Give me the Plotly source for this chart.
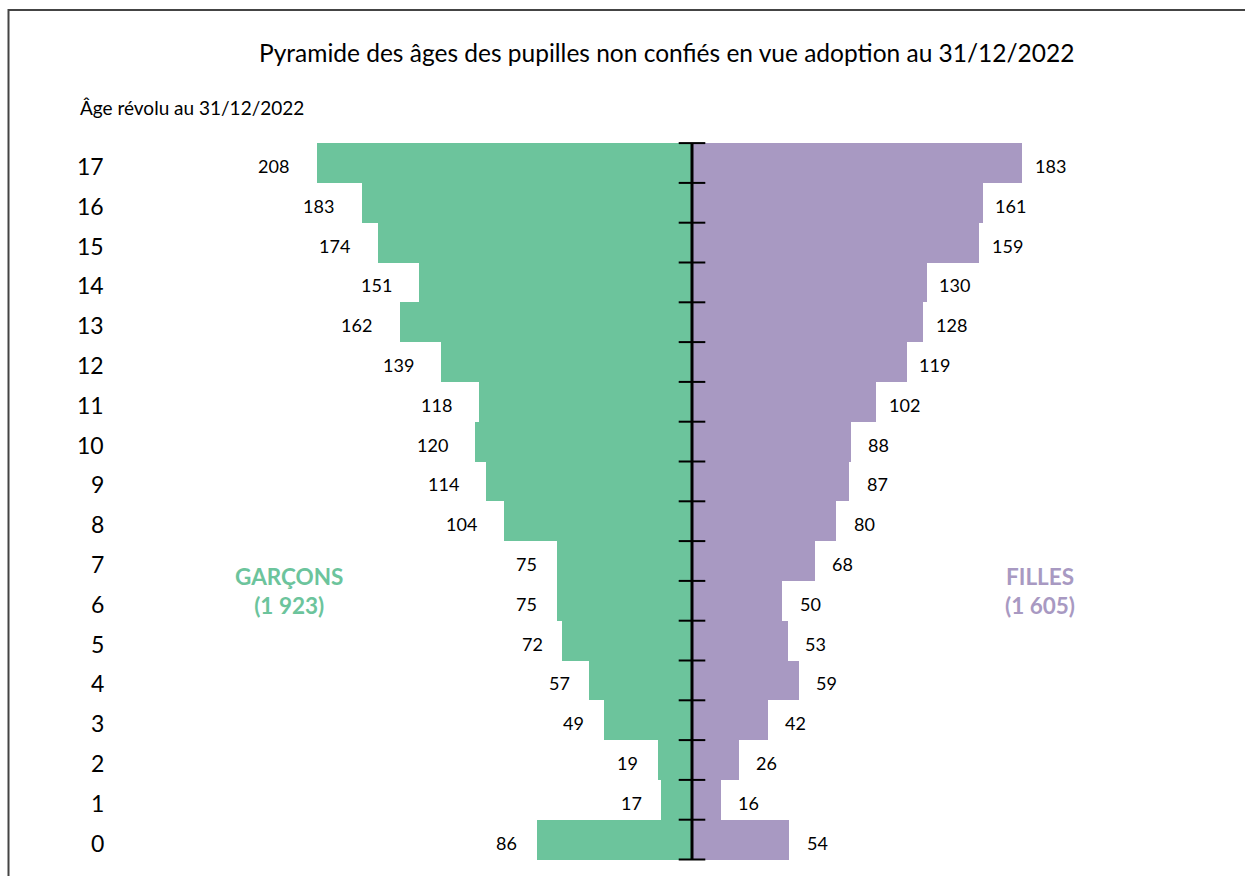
import plotly.graph_objects as go

ages = list(range(0, 18))
garcons = [86, 17, 19, 49, 57, 72, 75, 75, 104, 114, 120, 118, 139, 162, 151, 174, 183, 208]
filles = [54, 16, 26, 42, 59, 53, 50, 68, 80, 87, 88, 102, 119, 128, 130, 159, 161, 183]
title = "Pyramide des âges des pupilles non confiés en vue adoption au 31/12/2022"
subtitle = "Âge révolu au 31/12/2022"
green = "#6CC49C"
purple = "#A899C2"
W, H = 1245, 876
FONT = "Lato"

px_per_unit = 1.805
cx = 692
row_px = 39.8
top_center = 163

fig = go.Figure()
fig.add_trace(go.Bar(y=ages, x=[-v for v in garcons], orientation="h",
                     marker=dict(color=green, line=dict(width=0)), width=1, hoverinfo="skip"))
fig.add_trace(go.Bar(y=ages, x=filles, orientation="h",
                     marker=dict(color=purple, line=dict(width=0)), width=1, hoverinfo="skip"))

# central axis line and ticks
bounds = [a - 0.5 for a in ages] + [ages[-1] + 0.5]
fig.add_trace(go.Scatter(x=[0, 0], y=[bounds[0], bounds[-1]], mode="lines",
                         line=dict(color="black", width=3), hoverinfo="skip"))
fig.add_trace(go.Scatter(x=[0] * len(bounds), y=bounds, mode="markers",
                         marker=dict(symbol="line-ew", size=19, line=dict(color="black", width=2)),
                         hoverinfo="skip"))

annotations = []
# age labels (right aligned)
age_x = (106 - cx) / px_per_unit
for a in ages:
    annotations.append(dict(x=age_x, y=a, xref="x", yref="y", text=str(a), showarrow=False,
                            xanchor="right", yshift=-3,
                            font=dict(family=FONT, size=23, color="black")))
for a, g, f in zip(ages, garcons, filles):
    annotations.append(dict(x=-g, y=a, xref="x", yref="y", text=str(g), showarrow=False,
                            xanchor="center", xshift=(-43 if g >= 100 else -30), yshift=-3,
                            font=dict(family=FONT, size=18, color="black")))
    annotations.append(dict(x=f, y=a, xref="x", yref="y", text=str(f), showarrow=False,
                            xanchor="center", xshift=28, yshift=-3,
                            font=dict(family=FONT, size=18, color="black")))

annotations.append(dict(x=666 / W, y=1 - 53 / H, xref="paper", yref="paper", text=title,
                        showarrow=False, xanchor="center", yanchor="middle",
                        font=dict(family=FONT, size=24.5, color="black")))
annotations.append(dict(x=78 / W, y=1 - 107 / H, xref="paper", yref="paper", text=subtitle,
                        showarrow=False, xanchor="left", yanchor="middle",
                        font=dict(family=FONT, size=19, color="black")))
annotations.append(dict(x=289 / W, y=1 - 591 / H, xref="paper", yref="paper",
                        text="<b>GARÇONS</b><br><b>(1 923)</b>", showarrow=False,
                        xanchor="center", yanchor="middle", align="center",
                        font=dict(family=FONT, size=22.5, color=green)))
annotations.append(dict(x=1040 / W, y=1 - 591 / H, xref="paper", yref="paper",
                        text="<b>FILLES</b><br><b>(1 605)</b>", showarrow=False,
                        xanchor="center", yanchor="middle", align="center",
                        font=dict(family=FONT, size=22.5, color=purple)))

x0 = -cx / px_per_unit
x1 = (W - cx) / px_per_unit
y_top = ages[-1] + top_center / row_px
y_bot = ages[-1] - (H - top_center) / row_px

fig.update_layout(
    width=W, height=H, margin=dict(l=0, r=0, t=0, b=0),
    paper_bgcolor="white", plot_bgcolor="white",
    barmode="overlay", bargap=0, showlegend=False,
    xaxis=dict(range=[x0, x1], visible=False, fixedrange=True),
    yaxis=dict(range=[y_bot, y_top], visible=False, fixedrange=True),
    annotations=annotations,
    shapes=[dict(type="rect", xref="paper", yref="paper", x0=8.5 / W, x1=1.05, y0=-0.05, y1=1 - 10 / H,
                 line=dict(color="#444444", width=2), fillcolor="rgba(0,0,0,0)")],
)

fig.write_html("out.html", config={"displayModeBar": False},
               post_script="document.body.style.margin='0';document.body.style.overflow='hidden';")
